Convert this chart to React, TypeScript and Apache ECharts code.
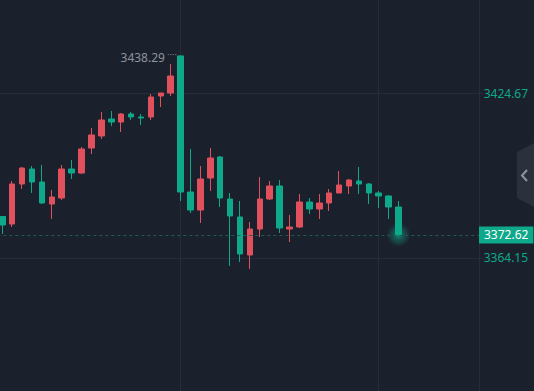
import React, { useEffect, useRef } from "react";
import * as echarts from "echarts";

const categories: string[] = Array.from({ length: 49 }, (_, i) => String(i + 1));

const opens = [
  3379.37, 3376.61, 3391.29, 3396.79, 3392.02, 3383.95, 3386.15, 3396.79, 3395.32, 3404.49,
  3408.9, 3415.13, 3414.03, 3416.97, 3415.87, 3415.87, 3423.57, 3424.67, 3438.29, 3388.35,
  3381.75, 3393.49, 3401.19, 3385.78, 3379.18, 3365.24, 3374.78, 3385.78, 3390.55, 3374.78,
  3375.51, 3384.68, 3382.12, 3384.32, 3387.99, 3390.55, 3392.39, 3391.29, 3387.99, 3386.89,
  3382.85,
];
const closes = [
  3376.25, 3391.29, 3397.16, 3392.02, 3384.32, 3386.52, 3396.79, 3395.32, 3404.13, 3409.26,
  3414.77, 3414.03, 3416.97, 3415.87, 3415.5, 3423.2, 3424.67, 3430.91, 3388.35, 3381.75,
  3393.12, 3400.83, 3386.15, 3379.55, 3365.61, 3374.78, 3385.78, 3390.55, 3375.15, 3375.51,
  3384.68, 3382.12, 3384.32, 3387.99, 3390.92, 3392.75, 3391.29, 3387.99, 3386.89, 3382.85,
  3372.62,
];
const lows = [
  3372.95, 3375.51, 3389.45, 3387.99, 3383.95, 3378.45, 3385.42, 3393.12, 3394.96, 3402.29,
  3407.8, 3412.56, 3410.36, 3414.77, 3412.93, 3414.77, 3419.53, 3423.57, 3385.05, 3380.65,
  3376.98, 3388.72, 3382.85, 3361.21, 3362.68, 3360.11, 3371.84, 3385.42, 3373.31, 3370.01,
  3375.15, 3380.28, 3378.45, 3381.38, 3387.99, 3387.62, 3387.62, 3383.95, 3382.48, 3378.45,
  3372.62,
];
const highs = [
  3379.55, 3392.39, 3397.52, 3397.89, 3398.26, 3389.09, 3398.26, 3400.09, 3404.86, 3411.83,
  3417.7, 3418.07, 3417.33, 3417.7, 3416.97, 3424.3, 3424.67, 3435.31, 3438.29, 3404.13,
  3397.89, 3404.49, 3401.56, 3387.99, 3385.05, 3377.35, 3393.86, 3392.39, 3392.75, 3379.92,
  3387.62, 3386.15, 3387.62, 3389.45, 3396.06, 3393.12, 3397.52, 3391.65, 3388.72, 3387.25,
  3385.05,
];

const yTickLabels = [3364.15, 3424.67];
const lastPrice = 3372.62;
const maxPrice = 3438.29;
const maxIndex = 18;
const yMin = 3315.35;
const yMax = 3458.79;

const BG = "#1b202d";
const GRID = "#262c39";
const RED = "#e0505d";
const GREEN = "#0ea88a";
const GRAY = "#8e939c";
const FONT = "Noto Sans";

export default function App() {
  const ref = useRef<HTMLDivElement>(null);

  useEffect(() => {
    if (!ref.current) return;
    const chart = echarts.init(ref.current, undefined, { renderer: "svg" });
    const data = opens.map((o, i) => [o, closes[i], lows[i], highs[i]]);
    const option: any = {
      animation: false,
      backgroundColor: BG,
      grid: {
        left: -2.65,
        right: 51.3,
        top: 0,
        bottom: 0,
        containLabel: false,
        outerBoundsMode: "none",
      },
      xAxis: {
        type: "category",
        data: categories,
        boundaryGap: true,
        axisLine: { show: false },
        axisTick: { show: false },
        axisLabel: { show: false },
        splitLine: {
          show: true,
          alignWithLabel: true,
          interval: (i: number) => i === 18 || i === 38,
          lineStyle: { color: GRID, width: 1 },
        },
      },
      yAxis: {
        type: "value",
        position: "right",
        min: yMin,
        max: yMax,
        offset: -3.7,
        axisLine: { show: true, lineStyle: { color: GRID } },
        axisTick: { show: false, customValues: yTickLabels },
        axisLabel: {
          customValues: yTickLabels,
          formatter: (v: number) => v.toFixed(2),
          color: GREEN,
          fontSize: 12,
          fontFamily: FONT,
          margin: 4.7,
        },
        splitLine: { show: true, lineStyle: { color: GRID, width: 1 } },
      },
      series: [
        {
          type: "scatter",
          data: [[categories[opens.length - 1], lastPrice]],
          symbolSize: 24,
          silent: true,
          z: 1,
          itemStyle: {
            color: new echarts.graphic.RadialGradient(0.5, 0.5, 0.5, [
              { offset: 0, color: "rgba(14,168,138,0.95)" },
              { offset: 0.4, color: "rgba(14,168,138,0.5)" },
              { offset: 1, color: "rgba(14,168,138,0)" },
            ]),
          },
        },
        {
          type: "candlestick",
          data,
          barWidth: 6,
          z: 2,
          itemStyle: {
            color: RED,
            color0: GREEN,
            borderColor: RED,
            borderColor0: GREEN,
            borderWidth: 1,
          },
          markLine: {
            silent: true,
            symbol: ["none", "none"],
            data: [{ yAxis: lastPrice }],
            lineStyle: { color: "#1f5a53", type: [3, 3], width: 1 },
            label: {
              show: true,
              position: "end",
              distance: -3.7,
              formatter: lastPrice.toFixed(2),
              backgroundColor: GREEN,
              color: "#ffffff",
              fontSize: 12,
              fontFamily: FONT,
              lineHeight: 13,
              padding: [2, 5],
            },
            emphasis: { disabled: true },
          },
          markPoint: {
            silent: true,
            symbol: "circle",
            symbolSize: 1,
            itemStyle: { color: "rgba(0,0,0,0)" },
            data: [{ coord: [categories[maxIndex], maxPrice] }],
            label: {
              show: true,
              position: "left",
              distance: 3,
              formatter: "{a|" + maxPrice.toFixed(2) + "}{d|····}",
              rich: {
                a: {
                  color: GRAY,
                  fontSize: 12,
                  fontFamily: FONT,
                  lineHeight: 14,
                  padding: [4, 2, 0, 0],
                },
                d: { color: GRAY, fontSize: 8, fontFamily: "DejaVu Sans", verticalAlign: "middle" },
              },
            },
          },
        },
      ],
      graphic: [
        {
          type: "polygon",
          z: 100,
          shape: { points: [[517, 152], [534, 143], [534, 207], [517, 198]] },
          style: { fill: "#2b303d" },
        },
        {
          type: "polyline",
          z: 101,
          shape: { points: [[527, 170], [522, 175.5], [527, 181]] },
          style: { stroke: "#8e94a0", lineWidth: 2, fill: null },
        },
      ],
    };
    chart.setOption(option);
    return () => chart.dispose();
  }, []);

  return (
    <div
      ref={ref}
      style={{ position: "fixed", left: 0, top: 0, width: 534, height: 391 }}
    />
  );
}
